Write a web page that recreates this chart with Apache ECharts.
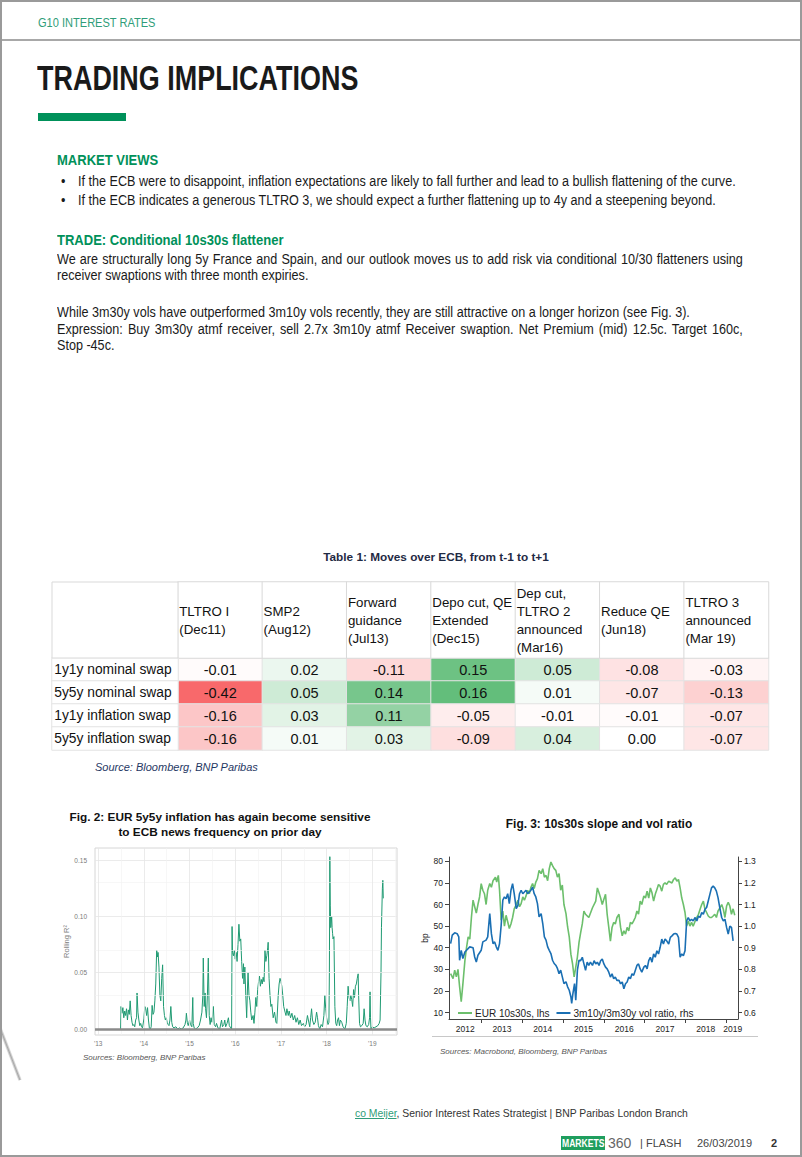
<!DOCTYPE html>
<html><head><meta charset="utf-8">
<script src="https://cdn.jsdelivr.net/npm/echarts@6/dist/echarts.min.js"></script>
<style>
html,body{margin:0;padding:0;background:#fff;}
#page{position:relative;width:802px;height:1157px;overflow:hidden;background:#fff;font-family:"Liberation Sans Narrow","Arial Narrow","Liberation Sans",Arial,sans-serif;color:#1a1a1a;box-sizing:border-box;}
#frame{position:absolute;left:0;top:0;width:802px;height:1157px;box-sizing:border-box;border:2px solid #9a9a9a;z-index:5;pointer-events:none;}
#chart{position:absolute;left:0;top:0;width:802px;height:1157px;z-index:1;}
.t{position:absolute;white-space:nowrap;z-index:3;}
.body{font-size:14px;line-height:16px;transform:scaleX(0.9);transform-origin:0 0;}
.green{color:#00915A;font-weight:bold;font-size:14px;line-height:16px;transform:scaleX(0.93);transform-origin:0 0;}
.jl{position:absolute;left:57px;width:762px;white-space:nowrap;text-align:justify;text-align-last:justify;font-size:14px;line-height:16px;transform:scaleX(0.9);transform-origin:0 0;z-index:3;}
.arial{font-family:"Liberation Sans",Arial,sans-serif;}
</style></head>
<body>
<div id="page">
  <div id="chart"></div>
  <div id="frame"></div>
  <div style="position:absolute;left:0;top:39px;width:802px;height:2px;background:#a8a8a8;z-index:4"></div>
  <div class="t" style="left:38px;top:15px;font-size:13px;line-height:16px;color:#2f9d79;transform:scaleX(0.85);transform-origin:0 0;">G10 INTEREST RATES</div>
  <div class="t" style="left:37px;top:57px;font-size:35px;line-height:42px;font-weight:bold;color:#1a1a1a;transform:scaleX(0.77);transform-origin:0 0;">TRADING IMPLICATIONS</div>
  <div style="position:absolute;left:38px;top:113px;width:88px;height:8px;background:#00915A;"></div>
  <div class="t green" style="left:57px;top:152px;">MARKET VIEWS</div>
  <div class="t body" style="left:61px;top:173px;">•</div>
  <div class="t body" style="left:78px;top:173px;">If the ECB were to disappoint, inflation expectations are likely to fall further and lead to a bullish flattening of the curve.</div>
  <div class="t body" style="left:61px;top:192px;">•</div>
  <div class="t body" style="left:78px;top:192px;">If the ECB indicates a generous TLTRO 3, we should expect a further flattening up to 4y and a steepening beyond.</div>
  <div class="t green" style="left:57px;top:232px;">TRADE: Conditional 10s30s flattener</div>
  <div class="jl" style="top:251px;">We are structurally long 5y France and Spain, and our outlook moves us to add risk via conditional 10/30 flatteners using</div>
  <div class="t body" style="left:57px;top:267px;">receiver swaptions with three month expiries.</div>
  <div class="t body" style="left:57px;top:304px;">While 3m30y vols have outperformed 3m10y vols recently, they are still attractive on a longer horizon (see Fig. 3).</div>
  <div class="jl" style="top:321px;">Expression: Buy 3m30y atmf receiver, sell 2.7x 3m10y atmf Receiver swaption. Net Premium (mid) 12.5c. Target 160c,</div>
  <div class="t body" style="left:57px;top:337px;">Stop -45c.</div>

  <div class="t arial" style="left:0;width:872px;text-align:center;top:550px;font-size:11.8px;line-height:14px;font-weight:bold;color:#1f2a44;">Table 1: Moves over ECB, from t-1 to t+1</div>
  <div class="t arial" style="left:95px;top:760px;font-size:11px;line-height:14px;font-style:italic;color:#1f3864;">Source: Bloomberg, BNP Paribas</div>

  <div class="t arial" style="left:0;width:440px;text-align:center;top:810px;font-size:11.8px;line-height:15px;font-weight:bold;color:#111;">Fig. 2: EUR 5y5y inflation has again become sensitive<br>to ECB news frequency on prior day</div>
  <div class="t arial" style="left:83px;top:1052px;font-size:8px;line-height:12px;font-style:italic;color:#555;">Sources: Bloomberg, BNP Paribas</div>

  <div class="t arial" style="left:0;width:1198px;text-align:center;top:817px;font-size:11.9px;line-height:15px;font-weight:bold;color:#111;">Fig. 3: 10s30s slope and vol ratio</div>
  <div style="position:absolute;left:432px;top:1036px;width:326px;height:1px;background:#c8c8c8;"></div>
  <div class="t arial" style="left:440px;top:1046px;font-size:8px;line-height:12px;font-style:italic;color:#555;">Sources: Macrobond, Bloomberg, BNP Paribas</div>

  <div style="position:absolute;left:8px;top:1026px;width:4px;height:56px;background:linear-gradient(90deg,#f6f6f6,#a8a8a8,#f6f6f6);transform:rotate(-21deg);z-index:2"></div>

  <div class="t arial" style="left:355px;top:1107px;font-size:10.4px;line-height:14px;color:#333;"><span style="color:#2f9d79;text-decoration:underline;">co Meijer</span>, Senior Interest Rates Strategist | BNP Paribas London Branch</div>
  <div style="position:absolute;left:561px;top:1136px;width:44px;height:14px;background:#1f9e5e;z-index:3;"></div>
  <div class="t arial" style="left:562px;top:1136px;font-size:11px;line-height:14px;font-weight:bold;color:#fff;transform:scaleX(0.78);transform-origin:0 0;">MARKETS</div>
  <div class="t arial" style="left:608px;top:1135px;font-size:14px;line-height:16px;color:#666;">360</div>
  <div class="t arial" style="left:640px;top:1136px;font-size:11px;line-height:14px;color:#444;">| FLASH</div>
  <div class="t arial" style="left:697px;top:1136px;font-size:11px;line-height:14px;color:#444;">26/03/2019</div>
  <div class="t arial" style="left:771px;top:1136px;font-size:11px;line-height:14px;font-weight:bold;color:#333;">2</div>
</div>
<script>
// ---------------- DATA ----------------
const tableCols = ['TLTRO I\n(Dec11)','SMP2\n(Aug12)','Forward\nguidance\n(Jul13)','Depo cut, QE\nExtended\n(Dec15)','Dep cut,\nTLTRO 2\nannounced\n(Mar16)','Reduce QE\n(Jun18)','TLTRO 3\nannounced\n(Mar 19)'];
const tableRows = ['1y1y nominal swap','5y5y nominal swap','1y1y inflation swap','5y5y inflation swap'];
const nominal1y1y   = [-0.01, 0.02, -0.11, 0.15, 0.05, -0.08, -0.03];
const nominal5y5y   = [-0.42, 0.05, 0.14, 0.16, 0.01, -0.07, -0.13];
const inflation1y1y = [-0.16, 0.03, 0.11, -0.05, -0.01, -0.01, -0.07];
const inflation5y5y = [-0.16, 0.01, 0.03, -0.09, 0.04, 0.00, -0.07];

const fig2YearTicks = [2013, 2014, 2015, 2016, 2017, 2018, 2019];
const fig2ValueTicks = [0, 0.05, 0.10, 0.15];
const rollingR2 = [[2013.49,0.000],[2013.50,0.020],[2013.52,0.014],[2013.54,0.019],[2013.56,0.010],[2013.58,0.016],[2013.60,0.012],[2013.62,0.018],[2013.64,0.008],[2013.66,0.017],[2013.68,0.013],[2013.70,0.025],[2013.72,0.012],[2013.74,0.006],[2013.76,0.003],[2013.78,0.004],[2013.80,0.002],[2013.82,0.008],[2013.84,0.010],[2013.85,0.032],[2013.87,0.015],[2013.89,0.008],[2013.91,0.003],[2013.93,0.005],[2013.95,0.002],[2013.97,0.001],[2014.00,0.009],[2014.02,0.020],[2014.04,0.018],[2014.06,0.012],[2014.08,0.019],[2014.10,0.008],[2014.12,0.001],[2014.14,0.000],[2014.16,0.002],[2014.18,0.021],[2014.20,0.013],[2014.22,0.015],[2014.24,0.025],[2014.26,0.040],[2014.28,0.070],[2014.30,0.064],[2014.31,0.068],[2014.33,0.055],[2014.35,0.030],[2014.37,0.025],[2014.39,0.045],[2014.41,0.057],[2014.43,0.020],[2014.45,0.012],[2014.47,0.008],[2014.49,0.010],[2014.51,0.006],[2014.53,0.004],[2014.55,0.003],[2014.57,0.008],[2014.59,0.020],[2014.61,0.006],[2014.63,0.002],[2014.66,0.001],[2014.70,0.002],[2014.74,0.000],[2014.78,0.001],[2014.82,0.000],[2014.86,0.001],[2014.90,0.004],[2014.92,0.008],[2014.93,0.014],[2014.95,0.006],[2014.97,0.003],[2015.00,0.008],[2015.02,0.004],[2015.05,0.002],[2015.07,0.028],[2015.08,0.005],[2015.10,0.001],[2015.13,0.000],[2015.17,0.001],[2015.21,0.003],[2015.24,0.008],[2015.27,0.015],[2015.29,0.030],[2015.30,0.063],[2015.32,0.020],[2015.34,0.032],[2015.35,0.018],[2015.37,0.010],[2015.39,0.030],[2015.41,0.063],[2015.43,0.012],[2015.45,0.004],[2015.47,0.010],[2015.49,0.006],[2015.52,0.020],[2015.54,0.004],[2015.57,0.002],[2015.59,0.005],[2015.62,0.001],[2015.66,0.000],[2015.70,0.008],[2015.72,0.002],[2015.75,0.004],[2015.77,0.008],[2015.79,0.002],[2015.82,0.005],[2015.85,0.010],[2015.87,0.003],[2015.90,0.001],[2015.92,0.000],[2015.93,0.091],[2015.94,0.068],[2015.96,0.065],[2015.98,0.070],[2016.00,0.062],[2016.02,0.068],[2016.04,0.060],[2016.06,0.075],[2016.08,0.093],[2016.10,0.078],[2016.12,0.080],[2016.14,0.060],[2016.16,0.045],[2016.18,0.058],[2016.19,0.040],[2016.21,0.055],[2016.23,0.030],[2016.25,0.010],[2016.27,0.040],[2016.28,0.050],[2016.30,0.030],[2016.32,0.025],[2016.34,0.015],[2016.36,0.008],[2016.39,0.012],[2016.41,0.005],[2016.43,0.015],[2016.45,0.028],[2016.47,0.020],[2016.49,0.035],[2016.51,0.042],[2016.53,0.047],[2016.55,0.038],[2016.57,0.044],[2016.59,0.040],[2016.61,0.046],[2016.63,0.042],[2016.65,0.070],[2016.67,0.060],[2016.69,0.065],[2016.71,0.072],[2016.72,0.077],[2016.74,0.045],[2016.76,0.030],[2016.78,0.020],[2016.80,0.022],[2016.83,0.010],[2016.86,0.015],[2016.89,0.006],[2016.91,0.005],[2016.94,0.030],[2016.96,0.040],[2016.98,0.045],[2017.00,0.042],[2017.02,0.038],[2017.04,0.030],[2017.06,0.020],[2017.09,0.015],[2017.11,0.012],[2017.13,0.018],[2017.16,0.012],[2017.18,0.016],[2017.21,0.010],[2017.24,0.014],[2017.27,0.008],[2017.30,0.012],[2017.33,0.006],[2017.36,0.010],[2017.39,0.004],[2017.42,0.008],[2017.45,0.003],[2017.49,0.005],[2017.52,0.002],[2017.55,0.004],[2017.58,0.012],[2017.60,0.008],[2017.63,0.002],[2017.65,0.010],[2017.67,0.018],[2017.69,0.008],[2017.72,0.004],[2017.75,0.006],[2017.78,0.015],[2017.80,0.010],[2017.82,0.003],[2017.85,0.000],[2017.88,0.004],[2017.91,0.002],[2017.94,0.012],[2017.96,0.030],[2017.98,0.018],[2018.00,0.010],[2018.03,0.004],[2018.05,0.006],[2018.06,0.050],[2018.07,0.153],[2018.08,0.110],[2018.09,0.090],[2018.10,0.095],[2018.11,0.100],[2018.12,0.090],[2018.13,0.085],[2018.14,0.080],[2018.16,0.082],[2018.17,0.050],[2018.18,0.020],[2018.20,0.005],[2018.22,0.003],[2018.24,0.008],[2018.26,0.010],[2018.28,0.003],[2018.30,0.008],[2018.33,0.006],[2018.36,0.002],[2018.40,0.000],[2018.43,0.005],[2018.45,0.020],[2018.47,0.038],[2018.49,0.028],[2018.51,0.025],[2018.53,0.030],[2018.55,0.026],[2018.57,0.020],[2018.59,0.035],[2018.61,0.028],[2018.63,0.038],[2018.65,0.040],[2018.67,0.045],[2018.69,0.049],[2018.70,0.030],[2018.72,0.005],[2018.74,0.002],[2018.77,0.003],[2018.80,0.005],[2018.82,0.018],[2018.84,0.008],[2018.86,0.003],[2018.89,0.002],[2018.92,0.004],[2018.94,0.010],[2018.95,0.033],[2018.96,0.010],[2018.97,0.000],[2019.00,0.002],[2019.04,0.001],[2019.08,0.002],[2019.12,0.003],[2019.15,0.005],[2019.17,0.008],[2019.19,0.050],[2019.20,0.090],[2019.22,0.125],[2019.23,0.132],[2019.24,0.116]];

const fig3Years = [2012, 2013, 2014, 2015, 2016, 2017, 2018, 2019];
const fig3LeftTicks = [10, 20, 30, 40, 50, 60, 70, 80];
const fig3RightTicks = [0.6, 0.7, 0.8, 0.9, 1.0, 1.1, 1.2, 1.3];
const eur10s30s = [[2012.24,28],[2012.30,25.7],[2012.34,29.6],[2012.38,26.5],[2012.42,30],[2012.46,22],[2012.50,15],[2012.54,23],[2012.59,34],[2012.63,40],[2012.67,45],[2012.71,44],[2012.75,54],[2012.79,62],[2012.83,59],[2012.87,56],[2012.91,60],[2012.95,63.5],[2012.99,69.7],[2013.03,66.6],[2013.07,65],[2013.11,60],[2013.15,66.6],[2013.20,69.7],[2013.24,68],[2013.28,71],[2013.34,72.7],[2013.37,70.4],[2013.41,73.5],[2013.44,66.6],[2013.48,52.7],[2013.52,57],[2013.56,50],[2013.60,55],[2013.64,52],[2013.68,48.9],[2013.72,51],[2013.76,54],[2013.80,58],[2013.85,60],[2013.89,62],[2013.93,59],[2013.97,60.4],[2014.01,63.5],[2014.05,62],[2014.09,64],[2014.13,66.6],[2014.17,65],[2014.21,68],[2014.25,69.7],[2014.29,67.4],[2014.33,70.4],[2014.37,72],[2014.41,75.8],[2014.46,74.3],[2014.50,76.6],[2014.54,72.7],[2014.58,73.5],[2014.62,71],[2014.66,76.6],[2014.70,79.7],[2014.74,78],[2014.78,76.6],[2014.82,75.8],[2014.86,72.7],[2014.90,74.3],[2014.94,66.6],[2014.98,69],[2015.02,60],[2015.07,55.8],[2015.11,49.6],[2015.15,45],[2015.19,37],[2015.23,32.7],[2015.27,26.5],[2015.31,31],[2015.35,35.7],[2015.39,42.5],[2015.43,47],[2015.47,51],[2015.51,57],[2015.55,55.5],[2015.63,54],[2015.72,58.5],[2015.80,61.6],[2015.84,67.7],[2015.88,65.4],[2015.92,63],[2015.96,60],[2016.00,62.4],[2016.04,64.7],[2016.08,55.5],[2016.12,49.4],[2016.16,43],[2016.20,49.4],[2016.24,51.7],[2016.28,51],[2016.32,54],[2016.37,55.5],[2016.41,49.4],[2016.45,45.5],[2016.49,47.8],[2016.53,46.3],[2016.57,49.4],[2016.61,47.8],[2016.65,51.7],[2016.69,51],[2016.73,52.4],[2016.77,54],[2016.81,57],[2016.85,55.5],[2016.89,61.6],[2016.93,60],[2016.98,64],[2017.02,63],[2017.06,66.2],[2017.10,63],[2017.14,67.7],[2017.18,65.4],[2017.22,61.6],[2017.26,64.7],[2017.30,67],[2017.34,69.3],[2017.38,68.5],[2017.42,66.2],[2017.46,69.3],[2017.50,70],[2017.54,69.3],[2017.59,70.8],[2017.67,70],[2017.71,71.6],[2017.75,72.3],[2017.79,70.8],[2017.83,71.6],[2017.87,67.7],[2017.91,63],[2017.95,60],[2017.99,56.3],[2018.03,50],[2018.07,52.4],[2018.11,50],[2018.15,51.7],[2018.19,50],[2018.24,52.4],[2018.28,54],[2018.32,55.5],[2018.36,57.8],[2018.40,60],[2018.44,61.6],[2018.48,57.8],[2018.52,56.3],[2018.56,54.7],[2018.60,54],[2018.64,54],[2018.68,54.7],[2018.72,55.5],[2018.76,54],[2018.80,57],[2018.85,58.5],[2018.89,60],[2018.93,57.8],[2018.97,54],[2019.01,59.3],[2019.05,61],[2019.09,59.3],[2019.13,55.5],[2019.17,58],[2019.21,55]];
const volRatio = [[2012.24,0.919],[2012.28,0.958],[2012.34,0.969],[2012.40,0.965],[2012.44,0.95],[2012.46,0.842],[2012.50,0.888],[2012.54,0.85],[2012.59,0.88],[2012.63,0.888],[2012.71,0.904],[2012.79,0.9],[2012.83,0.857],[2012.87,0.834],[2012.91,0.865],[2012.99,0.888],[2013.03,0.927],[2013.11,0.935],[2013.15,0.95],[2013.20,1.058],[2013.24,0.965],[2013.28,0.919],[2013.32,0.927],[2013.36,0.904],[2013.40,0.888],[2013.44,0.919],[2013.48,1.004],[2013.52,1.12],[2013.56,1.135],[2013.60,1.127],[2013.64,1.15],[2013.68,1.104],[2013.72,1.166],[2013.76,1.197],[2013.80,1.15],[2013.85,1.081],[2013.89,1.096],[2013.93,1.15],[2013.97,1.166],[2014.01,1.15],[2014.05,1.158],[2014.09,1.166],[2014.13,1.15],[2014.17,1.158],[2014.21,1.166],[2014.25,1.181],[2014.29,1.15],[2014.33,1.135],[2014.37,1.104],[2014.41,1.043],[2014.46,1.058],[2014.50,1.012],[2014.54,0.95],[2014.58,0.935],[2014.62,0.904],[2014.66,0.888],[2014.70,0.873],[2014.74,0.842],[2014.78,0.827],[2014.82,0.819],[2014.86,0.804],[2014.90,0.78],[2014.94,0.796],[2014.98,0.765],[2015.02,0.734],[2015.07,0.742],[2015.11,0.719],[2015.15,0.703],[2015.19,0.673],[2015.21,0.642],[2015.24,0.688],[2015.28,0.734],[2015.31,0.657],[2015.35,0.796],[2015.39,0.842],[2015.43,0.84],[2015.47,0.856],[2015.51,0.825],[2015.55,0.795],[2015.59,0.833],[2015.63,0.818],[2015.67,0.833],[2015.72,0.818],[2015.76,0.84],[2015.80,0.825],[2015.84,0.833],[2015.88,0.818],[2015.92,0.84],[2015.96,0.848],[2016.00,0.825],[2016.04,0.81],[2016.08,0.802],[2016.12,0.787],[2016.16,0.764],[2016.20,0.779],[2016.24,0.756],[2016.28,0.764],[2016.32,0.749],[2016.37,0.749],[2016.41,0.733],[2016.45,0.741],[2016.49,0.71],[2016.53,0.733],[2016.57,0.741],[2016.61,0.764],[2016.65,0.756],[2016.69,0.779],[2016.73,0.772],[2016.77,0.795],[2016.81,0.818],[2016.85,0.825],[2016.89,0.802],[2016.93,0.787],[2016.98,0.81],[2017.02,0.818],[2017.06,0.802],[2017.10,0.84],[2017.14,0.856],[2017.18,0.833],[2017.22,0.871],[2017.26,0.856],[2017.30,0.886],[2017.34,0.871],[2017.38,0.902],[2017.42,0.94],[2017.46,0.917],[2017.50,0.94],[2017.54,0.932],[2017.59,0.917],[2017.63,0.948],[2017.67,0.955],[2017.71,0.963],[2017.75,0.966],[2017.79,0.963],[2017.83,0.948],[2017.87,0.856],[2017.91,0.871],[2017.95,0.863],[2017.99,0.886],[2018.03,1.024],[2018.07,1.04],[2018.11,1.024],[2018.15,1.032],[2018.19,1.024],[2018.24,1.04],[2018.28,1.024],[2018.32,1.047],[2018.36,1.04],[2018.40,1.063],[2018.44,1.055],[2018.48,1.078],[2018.52,1.086],[2018.56,1.116],[2018.60,1.147],[2018.64,1.177],[2018.68,1.185],[2018.72,1.177],[2018.76,1.162],[2018.80,1.132],[2018.85,1.078],[2018.89,1.04],[2018.93,1.024],[2018.97,1.032],[2019.01,0.994],[2019.05,0.963],[2019.09,1.0],[2019.13,0.994],[2019.17,0.932]];

// ---------------- BUILD ----------------
const ARIAL = '"Liberation Sans",Arial,sans-serif';
const tableValues = [nominal1y1y, nominal5y5y, inflation1y1y, inflation5y5y];
const cellData = [];
tableValues.forEach((row, r) => row.forEach((v, c) => cellData.push([c, r, v])));
const headerData = tableCols.map((_, c) => [c, 0, 0]);
const rowLabelData = tableRows.map((_, r) => [0, r, 0]);

const vMin = -0.42, vMax = 0.16;
function mix(a, b, t) { return 'rgb(' + a.map((x, i) => Math.round(x + (b[i] - x) * t)).join(',') + ')'; }
const RED = [248, 105, 107], WHITE = [255, 255, 255], GREEN = [99, 190, 123];
const stops = [];
for (let i = 0; i <= 58; i++) {
  const v = vMin + i * (vMax - vMin) / 58;
  stops.push(v < 0 ? mix(WHITE, RED, v / vMin) : mix(WHITE, GREEN, v / vMax));
}

const T = { left: 178, width: 590.5, headTop: 582, headH: 76, bodyTop: 658, bodyH: 92, labLeft: 52, labW: 126 };
const yearLabelPos = fig3Years.map(y => y === 2012 ? 2012.6 : (y === 2019 ? 2019.16 : y + 0.5));

const hiddenCat = (data, gi, inverse) => ({ type: 'category', data, gridIndex: gi, inverse: !!inverse, show: false });
const gridLine = (c, w) => ({ color: c, width: w, type: 'solid' });

const chart = echarts.init(document.getElementById('chart'), null, { renderer: 'svg' });
chart.setOption({
  animation: false,
  textStyle: { fontFamily: ARIAL },
  grid: [
    { left: T.left, top: T.bodyTop, width: T.width, height: T.bodyH },
    { left: T.left, top: T.headTop, width: T.width, height: T.headH },
    { left: T.labLeft, top: T.bodyTop, width: T.labW, height: T.bodyH },
    { left: 95, top: 848, width: 302, height: 187, show: true, borderColor: '#d6d6d6', borderWidth: 1, backgroundColor: 'transparent' },
    { left: 449, top: 857, width: 289, height: 162 }
  ],
  visualMap: { type: 'continuous', show: false, seriesIndex: 0, min: vMin, max: vMax, inRange: { color: stops } },
  xAxis: [
    hiddenCat(tableCols, 0), hiddenCat(tableCols, 1), hiddenCat(['lab'], 2),
    { type: 'value', gridIndex: 3, min: 2012.93, max: 2019.54, axisLine: { show: false }, axisTick: { show: false }, splitLine: { show: false },
      axisLabel: { customValues: fig2YearTicks, formatter: v => "'" + String(v).slice(2), fontSize: 6.5, color: '#7a7a7a', margin: 5 } },
    { type: 'value', gridIndex: 4, min: 2012.2, max: 2019.29, splitLine: { show: false },
      axisLine: { show: true, lineStyle: { color: '#444', width: 1 } },
      axisTick: { show: true, customValues: fig3Years.slice(1), length: 4, lineStyle: { color: '#444' } },
      axisLabel: { customValues: yearLabelPos, formatter: v => String(Math.floor(v)), fontSize: 8.5, color: '#222', margin: 5 } }
  ],
  yAxis: [
    hiddenCat(tableRows, 0, true), hiddenCat(['h'], 1), hiddenCat(tableRows, 2, true),
    { type: 'value', gridIndex: 3, min: -0.0053, max: 0.1607, axisLine: { show: false }, axisTick: { show: false }, splitLine: { show: false },
      axisLabel: { customValues: fig2ValueTicks, formatter: v => v.toFixed(2), fontSize: 6.5, color: '#7a7a7a', margin: 8 },
      name: 'Rolling R²', nameLocation: 'middle', nameGap: 22, nameTextStyle: { fontSize: 7.5, color: '#7a7a7a' } },
    { type: 'value', gridIndex: 4, min: 7, max: 82, position: 'left', splitLine: { show: false },
      axisLine: { show: true, lineStyle: { color: '#444', width: 1 } },
      axisTick: { show: true, customValues: fig3LeftTicks, length: 4, lineStyle: { color: '#444' } },
      axisLabel: { customValues: fig3LeftTicks, fontSize: 8.5, color: '#222', margin: 6 },
      name: 'bp', nameLocation: 'middle', nameGap: 18, nameTextStyle: { fontSize: 8.5, color: '#222' } },
    { type: 'value', gridIndex: 4, min: 0.57, max: 1.32, position: 'right', splitLine: { show: false },
      axisLine: { show: true, lineStyle: { color: '#444', width: 1 } },
      axisTick: { show: true, customValues: fig3RightTicks, length: 4, lineStyle: { color: '#444' } },
      axisLabel: { customValues: fig3RightTicks, formatter: v => v.toFixed(1), fontSize: 8.5, color: '#222', margin: 6 } }
  ],
  legend: {
    left: 453, top: 1003, itemWidth: 14, itemHeight: 2, itemGap: 7, icon: 'rect',
    textStyle: { fontSize: 10, color: '#222', padding: [0, 0, 0, -2] },
    data: ['EUR 10s30s, lhs', '3m10y/3m30y vol ratio, rhs']
  },
  series: [
    { type: 'heatmap', xAxisIndex: 0, yAxisIndex: 0, data: cellData,
      itemStyle: { borderColor: '#e3e3e3', borderWidth: 1 },
      label: { show: true, formatter: p => p.value[2].toFixed(2), fontSize: 14.5, color: '#111' } },
    { type: 'heatmap', xAxisIndex: 1, yAxisIndex: 1, data: headerData,
      itemStyle: { color: '#fff', borderColor: '#d9d9d9', borderWidth: 1 },
      label: { show: true, position: 'insideLeft', distance: 2, formatter: p => tableCols[p.value[0]], fontSize: 13.3, lineHeight: 18, color: '#111', align: 'left' } },
    { type: 'heatmap', xAxisIndex: 2, yAxisIndex: 2, data: rowLabelData,
      itemStyle: { color: '#fff', borderColor: '#e3e3e3', borderWidth: 1 },
      label: { show: true, position: 'insideLeft', distance: 3, formatter: p => tableRows[p.value[1]], fontSize: 13.8, color: '#111' } },
    { type: 'line', xAxisIndex: 3, yAxisIndex: 3, data: [], silent: true,
      markLine: { silent: true, symbol: 'none', label: { show: false }, animation: false,
        data: [0.025, 0.075, 0.125].map(v => ({ yAxis: v, lineStyle: gridLine('#f1f1f1', 0.6) }))
          .concat([0.05, 0.10, 0.15].map(v => ({ yAxis: v, lineStyle: gridLine('#e6e6e6', 0.8) })))
          .concat(fig2YearTicks.map(v => ({ xAxis: v, lineStyle: gridLine('#e6e6e6', 0.8) })))
          .concat(fig2YearTicks.map(v => ({ xAxis: v + 0.5, lineStyle: gridLine('#f1f1f1', 0.6) }))) } },
    { type: 'line', name: 'R2', xAxisIndex: 3, yAxisIndex: 3, data: rollingR2, symbol: 'none',
      lineStyle: { color: '#1f9a72', width: 1 }, itemStyle: { color: '#1f9a72' },
      markLine: { silent: true, symbol: 'none', label: { show: false }, data: [{ yAxis: 0 }], lineStyle: { color: '#8a8a8a', width: 2.5, type: 'solid' } } },
    { type: 'line', name: 'EUR 10s30s, lhs', xAxisIndex: 4, yAxisIndex: 4, data: eur10s30s, symbol: 'none',
      lineStyle: { color: '#6cbf6c', width: 1.6 }, itemStyle: { color: '#6cbf6c' } },
    { type: 'line', name: '3m10y/3m30y vol ratio, rhs', xAxisIndex: 4, yAxisIndex: 5, data: volRatio, symbol: 'none',
      lineStyle: { color: '#1a6fb3', width: 1.6 }, itemStyle: { color: '#1a6fb3' } }
  ],
  graphic: [
    { type: 'rect', shape: { x: T.labLeft, y: T.headTop, width: T.labW, height: T.headH }, style: { fill: '#fff', stroke: '#d9d9d9', lineWidth: 1 }, z: 10 }
  ]
});
</script>
</body></html>
